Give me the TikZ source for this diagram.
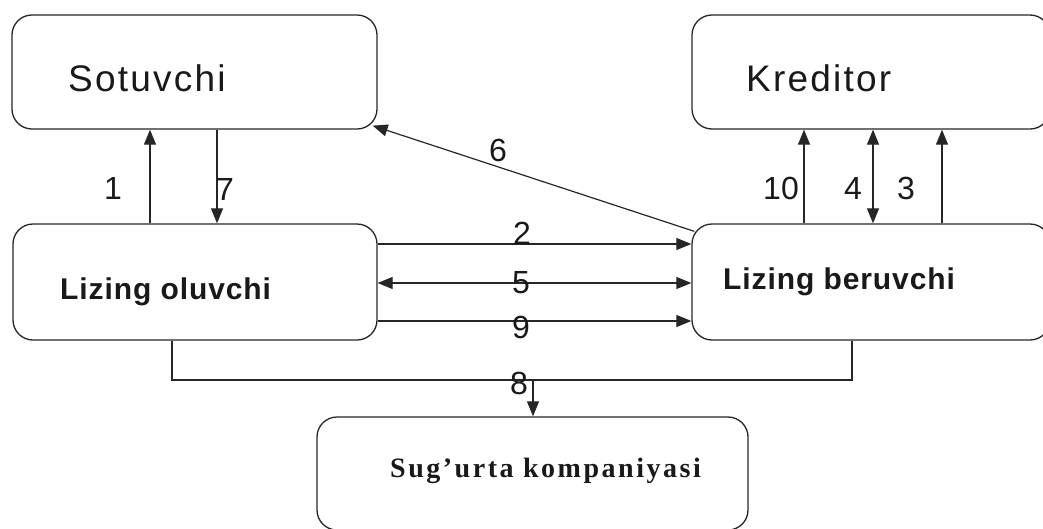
\documentclass[tikz,border=0pt]{standalone}
\usepackage{fontspec}
\setmainfont{Liberation Sans}
\newfontfamily\wideSans[LetterSpace=6]{Liberation Sans}
\newfontfamily\boldSans[LetterSpace=3]{Liberation Sans}
\newfontfamily\wideSerif[LetterSpace=9]{Liberation Serif}
\usetikzlibrary{arrows.meta}
\tikzset{
  party/.style={draw=black!85, line width=1.3pt, rounded corners=20pt, inner sep=0pt},
  conn/.style={draw=black!85, line width=1.2pt},
  tip/.style={-{Triangle[length=15pt,width=12pt]}},
  tips/.style={{Triangle[length=15pt,width=12pt]}-{Triangle[length=15pt,width=12pt]}},
  title/.style={anchor=base west, inner sep=0pt, text=black!90},
  num/.style={inner sep=0pt, text=black!90, font=\fontsize{32}{34}\selectfont}
}
\begin{document}
\begin{tikzpicture}[x=1pt, y=-1pt]
\useasboundingbox (0,0) rectangle (1043,528);

% parties
\node[party, minimum width=365pt, minimum height=114pt] (sot) at (194.5,72) {};
\node[party, minimum width=358pt, minimum height=114pt] (kre) at (871,72) {};
\node[party, minimum width=364pt, minimum height=116pt] (lo)  at (195,282) {};
\node[party, minimum width=358pt, minimum height=116pt] (lb)  at (871,282) {};
\node[party, minimum width=431pt, minimum height=113pt] (su)  at (532.5,473.5) {};

\node[title, font=\wideSans\fontsize{37}{40}\selectfont] (sotT) at (68,91) {Sotuvchi};
\node[title, font=\wideSans\fontsize{37}{40}\selectfont] (kreT) at (746,91) {Kreditor};
\node[title, font=\boldSans\bfseries\fontsize{30}{34}\selectfont] (loT) at (60,299) {Lizing oluvchi};
\node[title, font=\boldSans\bfseries\fontsize{30}{34}\selectfont] (lbT) at (723,289) {Lizing beruvchi};
\node[title, font=\wideSerif\bfseries\fontsize{28}{30}\selectfont] (suT) at (390,477) {Sug’urta kompaniyasi};

% vertical positions of the flows
\coordinate (x1) at (150,0);
\coordinate (x7) at (217,0);
\coordinate (x10) at (804,0);
\coordinate (x4) at (873,0);
\coordinate (x3) at (942,0);
\coordinate (y2) at (0,244);
\coordinate (y5) at (0,283);
\coordinate (y9) at (0,321);
\coordinate (a8) at (172,380);
\coordinate (b8) at (852,380);
\coordinate (j8) at (533,380);

% flows
\draw[conn, tip] (lo.north -| x1) -- (sot.south -| x1);
\draw[conn, tip] (sot.south -| x7) -- (lo.north -| x7);
\draw[conn, tip] ([shift={(3,8)}]lb.north west) -- ([shift={(-5,-4)}]sot.south east);
\draw[conn, tip] (lo.east |- y2) -- (lb.west |- y2);
\draw[conn, tips] (lo.east |- y5) -- (lb.west |- y5);
\draw[conn, tip] (lo.east |- y9) -- (lb.west |- y9);
\draw[conn, tip] (lb.north -| x10) -- (kre.south -| x10);
\draw[conn, tips] (lb.north -| x4) -- (kre.south -| x4);
\draw[conn, tip] (lb.north -| x3) -- (kre.south -| x3);
\draw[conn] (lo.south -| a8) -- (a8) -- (b8) -- (lb.south -| b8);
\draw[conn, tip] (j8) -- (su.north -| j8);

% flow numbers
\node[num] (n1) at (113,188) {1};
\node[num] (n7) at (225,189) {7};
\node[num] (n6) at (498,150) {6};
\node[num] (n2) at (522,233) {2};
\node[num] (n5) at (521,283) {5};
\node[num] (n9) at (521,327) {9};
\node[num] (n8) at (519,383) {8};
\node[num] (n10) at (781,188) {10};
\node[num] (n4) at (853,188) {4};
\node[num] (n3) at (906,188) {3};
\end{tikzpicture}
\end{document}
